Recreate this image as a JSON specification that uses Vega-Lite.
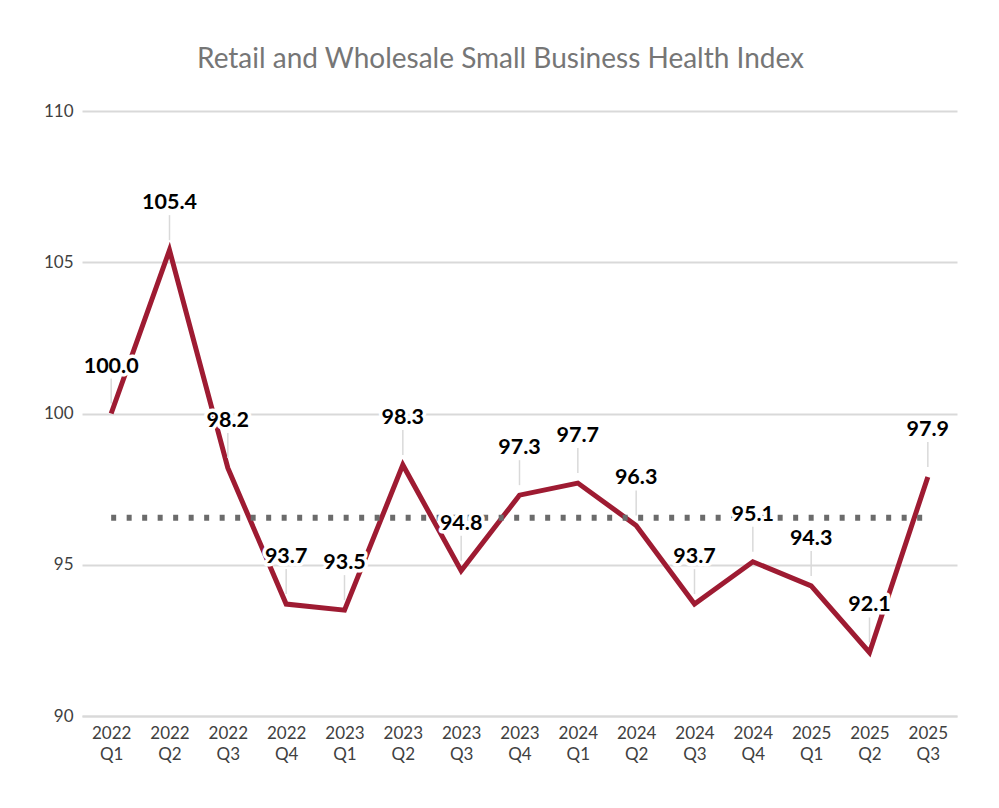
{
  "$schema": "https://vega.github.io/schema/vega-lite/v6.json",
  "width": 875,
  "height": 605,
  "autosize": {"type": "none"},
  "padding": {"left": 82, "top": 111, "right": 42, "bottom": 92},
  "background": "white",
  "title": {
    "text": "Retail and Wholesale Small Business Health Index",
    "font": "Lato",
    "fontSize": 28,
    "fontWeight": "normal",
    "color": "#767676",
    "offset": 28,
    "dx": -19,
    "anchor": "middle"
  },
  "config": {"view": {"stroke": null}, "font": "Lato"},
  "data": {
    "values": [
      {"q": "2022 Q1", "v": 100.0},
      {"q": "2022 Q2", "v": 105.4},
      {"q": "2022 Q3", "v": 98.2},
      {"q": "2022 Q4", "v": 93.7},
      {"q": "2023 Q1", "v": 93.5},
      {"q": "2023 Q2", "v": 98.3},
      {"q": "2023 Q3", "v": 94.8},
      {"q": "2023 Q4", "v": 97.3},
      {"q": "2024 Q1", "v": 97.7},
      {"q": "2024 Q2", "v": 96.3},
      {"q": "2024 Q3", "v": 93.7},
      {"q": "2024 Q4", "v": 95.1},
      {"q": "2025 Q1", "v": 94.3},
      {"q": "2025 Q2", "v": 92.1},
      {"q": "2025 Q3", "v": 97.9}
    ]
  },
  "encoding": {
    "x": {
      "field": "q",
      "type": "ordinal",
      "sort": null,
      "scale": {"type": "point", "padding": 0.5},
      "axis": {
        "title": null,
        "labelAngle": 0,
        "ticks": false,
        "domain": true,
        "domainColor": "#d9d9d9",
        "domainWidth": 2,
        "grid": false,
        "labelExpr": "split(datum.label, ' ')",
        "labelFont": "Lato",
        "labelFontSize": 17,
        "labelColor": "#404040",
        "labelPadding": 9,
        "labelLineHeight": 21
      }
    }
  },
  "layer": [
    {
      "mark": {"type": "line", "color": "#9E1B32", "strokeWidth": 5, "strokeJoin": "miter", "strokeCap": "butt"},
      "encoding": {
        "y": {
          "field": "v",
          "type": "quantitative",
          "scale": {"domain": [90, 110], "nice": false, "zero": false},
          "axis": {
            "title": null,
            "values": [90, 95, 100, 105, 110],
            "grid": true,
            "gridColor": "#d9d9d9",
            "gridWidth": 2,
            "domain": false,
            "ticks": false,
            "labelPadding": 9,
            "labelFont": "Lato",
            "labelFontSize": 17,
            "labelColor": "#404040"
          }
        }
      }
    },
    {
      "transform": [{"joinaggregate": [{"op": "mean", "field": "v", "as": "avg"}]}],
      "mark": {"type": "line", "color": "#6b6b6b", "strokeWidth": 6, "strokeDash": [5, 10.5], "strokeCap": "butt"},
      "encoding": {"y": {"field": "avg", "type": "quantitative"}}
    },
    {
      "mark": {"type": "rule", "color": "#d9d9d9", "strokeWidth": 1.5, "yOffset": -10, "y2Offset": -35},
      "encoding": {
        "y": {"field": "v", "type": "quantitative"},
        "y2": {"field": "v"}
      }
    },
    {
      "mark": {"type": "text", "dy": -47, "baseline": "middle", "font": "Lato", "fontSize": 21.5, "fontWeight": "bold", "stroke": "white", "strokeWidth": 7, "strokeJoin": "round", "fill": "white"},
      "encoding": {
        "y": {"field": "v", "type": "quantitative"},
        "text": {"field": "v", "type": "quantitative", "format": ".1f"}
      }
    },
    {
      "mark": {"type": "text", "dy": -47, "baseline": "middle", "font": "Lato", "fontSize": 21.5, "fontWeight": "bold", "fill": "black"},
      "encoding": {
        "y": {"field": "v", "type": "quantitative"},
        "text": {"field": "v", "type": "quantitative", "format": ".1f"}
      }
    }
  ]
}
